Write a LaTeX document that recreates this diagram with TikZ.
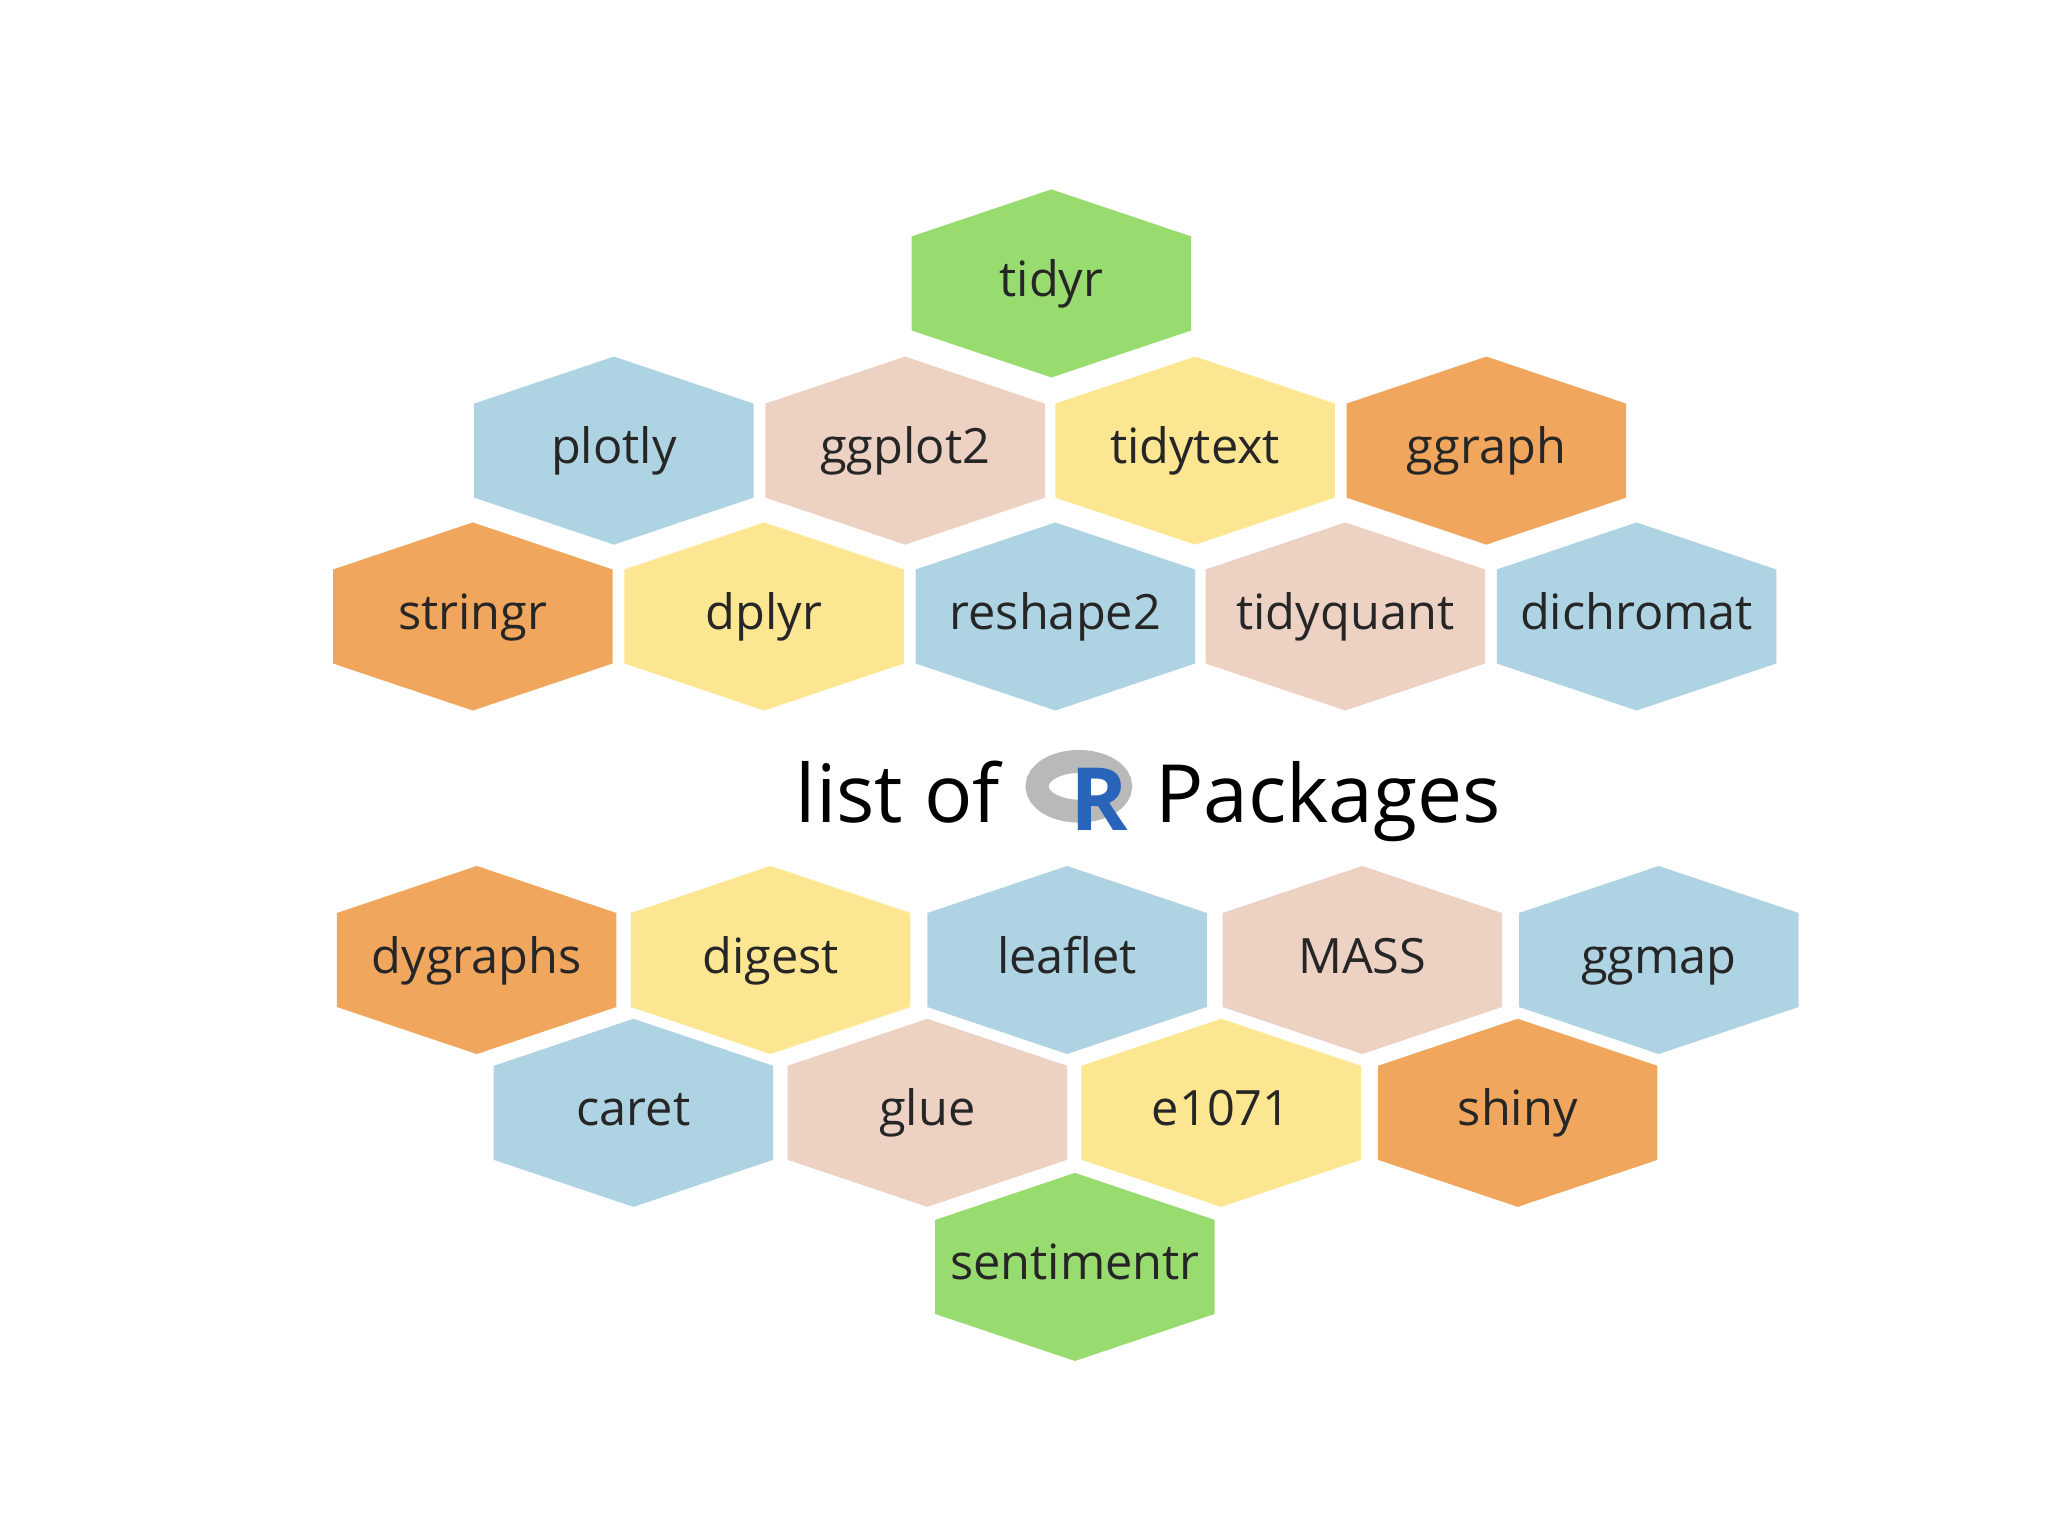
\documentclass[tikz,border=0pt]{standalone}
\usepackage{fontspec}
\setmainfont{Open Sans}
\usetikzlibrary{positioning}
\definecolor{hexblue}{RGB}{174,211,226}
\definecolor{hexpink}{RGB}{237,210,196}
\definecolor{hexyellow}{RGB}{253,230,145}
\definecolor{hexorange}{RGB}{240,166,92}
\definecolor{hexgreen}{RGB}{152,220,112}
\definecolor{rblue}{RGB}{40,100,185}
\begin{document}
\begin{tikzpicture}[x=0.01cm,y=-0.01cm,
    pkglabel/.style={font=\fontsize{10.6}{12}\selectfont, text=black!85, anchor=base}]
		
		%Canvas
		\useasboundingbox (0,0) rectangle (1568,1176);
		
		%Hexagons
		\foreach \pkg/\cx/\cy/\col in {
		  tidyr/805/217/hexgreen,
		  plotly/470/345/hexblue, ggplot2/693/345/hexpink, tidytext/915/345/hexyellow, ggraph/1138/345/hexorange,
		  stringr/362/472/hexorange, dplyr/585/472/hexyellow, reshape2/808/472/hexblue, tidyquant/1030/472/hexpink, dichromat/1253/472/hexblue,
		  dygraphs/365/735/hexorange, digest/590/735/hexyellow, leaflet/817/735/hexblue, MASS/1043/735/hexpink, ggmap/1270/735/hexblue,
		  caret/485/852/hexblue, glue/710/852/hexpink, e1071/935/852/hexyellow, shiny/1162/852/hexorange,
		  sentimentr/823/970/hexgreen}{
		  \fill[\col] (\cx,\cy-72) -- (\cx+107,\cy-36) -- (\cx+107,\cy+36) -- (\cx,\cy+72)
		    -- (\cx-107,\cy+36) -- (\cx-107,\cy-36) -- cycle;
		  \node[pkglabel] (\pkg) at (\cx,\cy+10) {\pkg};
		}
		
		%Title
		\node[font=\fontsize{17.5}{22}\selectfont, anchor=base east] (listof) at (778,630) {list of};
		\draw[gray!55, line width=5pt] (826,602) ellipse (32 and 19);
		\node[font=\bfseries\fontsize{19}{22}\selectfont, text=rblue, anchor=base] (rlogo) at (842,636) {R};
		\node[font=\fontsize{17.5}{22}\selectfont, anchor=base west] (packages) at (872,630) {Packages};
		
		\end{tikzpicture}
\end{document}
